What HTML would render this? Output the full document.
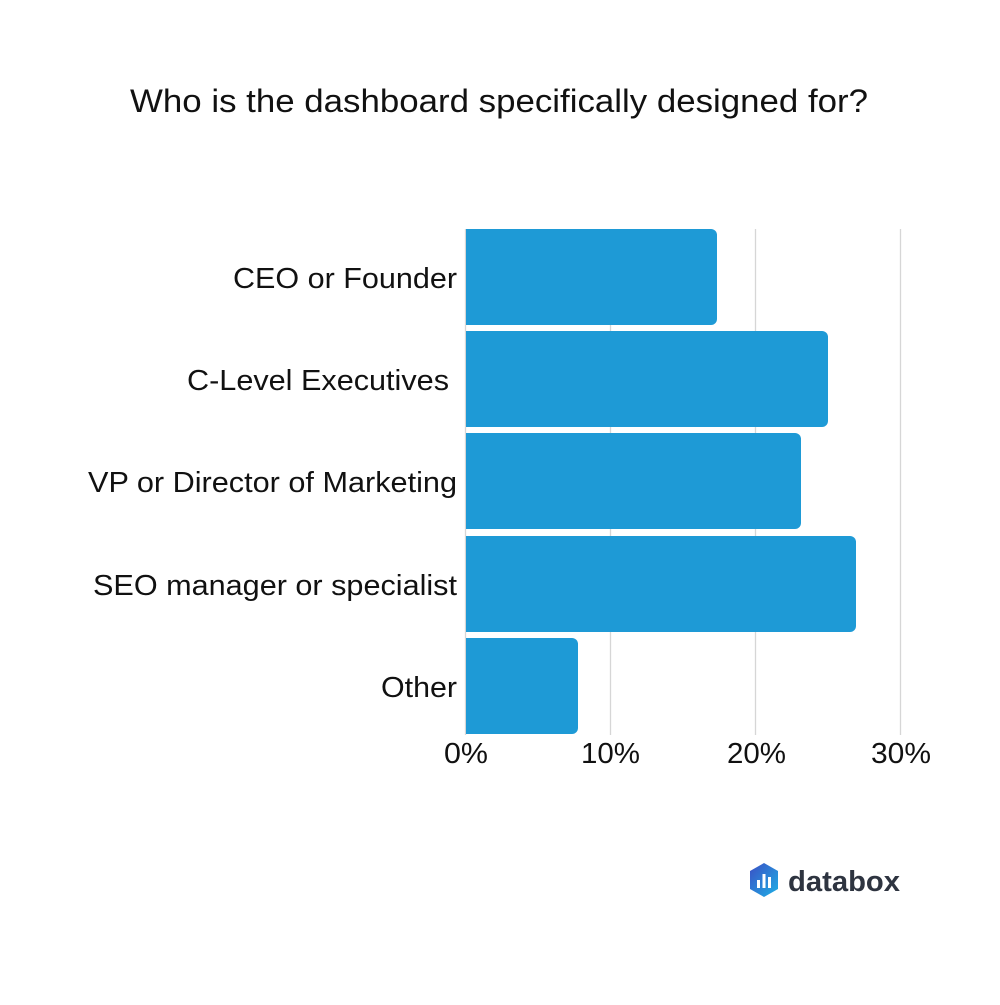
<!DOCTYPE html>
<html><head><style>body{margin:0;background:#fff}</style></head><body>
<svg width="1000" height="1000" viewBox="0 0 1000 1000" xmlns="http://www.w3.org/2000/svg" font-family="Liberation Sans, Arial, sans-serif">
<rect width="1000" height="1000" fill="#fff"/>
<text x="130" y="112" font-size="32" fill="#111" textLength="738" lengthAdjust="spacingAndGlyphs">Who is the dashboard specifically designed for?</text>
<g stroke="#d6d6d6" stroke-width="1.3">
<line x1="465.5" y1="229" x2="465.5" y2="735"/>
<line x1="610.5" y1="229" x2="610.5" y2="735"/>
<line x1="755.5" y1="229" x2="755.5" y2="735"/>
<line x1="900.5" y1="229" x2="900.5" y2="735"/>
</g>
<g fill="#1e9ad6">
<path d="M466 229H711a6 6 0 0 1 6 6V319a6 6 0 0 1-6 6H466Z"/>
<path d="M466 331H822a6 6 0 0 1 6 6V421a6 6 0 0 1-6 6H466Z"/>
<path d="M466 433H795a6 6 0 0 1 6 6V523a6 6 0 0 1-6 6H466Z"/>
<path d="M466 536H850a6 6 0 0 1 6 6V626a6 6 0 0 1-6 6H466Z"/>
<path d="M466 638H572a6 6 0 0 1 6 6V728a6 6 0 0 1-6 6H466Z"/>
</g>
<g font-size="29" fill="#111" lengthAdjust="spacingAndGlyphs">
<text x="233" y="288" textLength="224" lengthAdjust="spacingAndGlyphs">CEO or Founder</text>
<text x="187" y="390" textLength="262" lengthAdjust="spacingAndGlyphs">C-Level Executives</text>
<text x="88" y="492" textLength="369" lengthAdjust="spacingAndGlyphs">VP or Director of Marketing</text>
<text x="93" y="595" textLength="364" lengthAdjust="spacingAndGlyphs">SEO manager or specialist</text>
<text x="381" y="697" textLength="76" lengthAdjust="spacingAndGlyphs">Other</text>
</g>
<g font-size="29" fill="#111">
<text x="444" y="763" textLength="44" lengthAdjust="spacingAndGlyphs">0%</text>
<text x="581" y="763" textLength="59" lengthAdjust="spacingAndGlyphs">10%</text>
<text x="727" y="763" textLength="59" lengthAdjust="spacingAndGlyphs">20%</text>
<text x="871" y="763" textLength="60" lengthAdjust="spacingAndGlyphs">30%</text>
</g>
<defs><linearGradient id="g" x1="0" y1="0" x2="1" y2="1"><stop offset="0" stop-color="#3b4fc4"/><stop offset="1" stop-color="#1eb0e6"/></linearGradient></defs>
<path d="M764 863 L778 871 L778 889 L764 897 L750 889 L750 871 Z" fill="url(#g)"/>
<g fill="#fff"><rect x="757" y="880" width="3" height="8"/><rect x="762.5" y="874" width="3" height="14"/><rect x="768" y="877" width="3" height="11"/></g>
<text x="788" y="891" font-size="29" font-weight="bold" fill="#2e3440" textLength="112" lengthAdjust="spacingAndGlyphs">databox</text>
</svg>
</body></html>
